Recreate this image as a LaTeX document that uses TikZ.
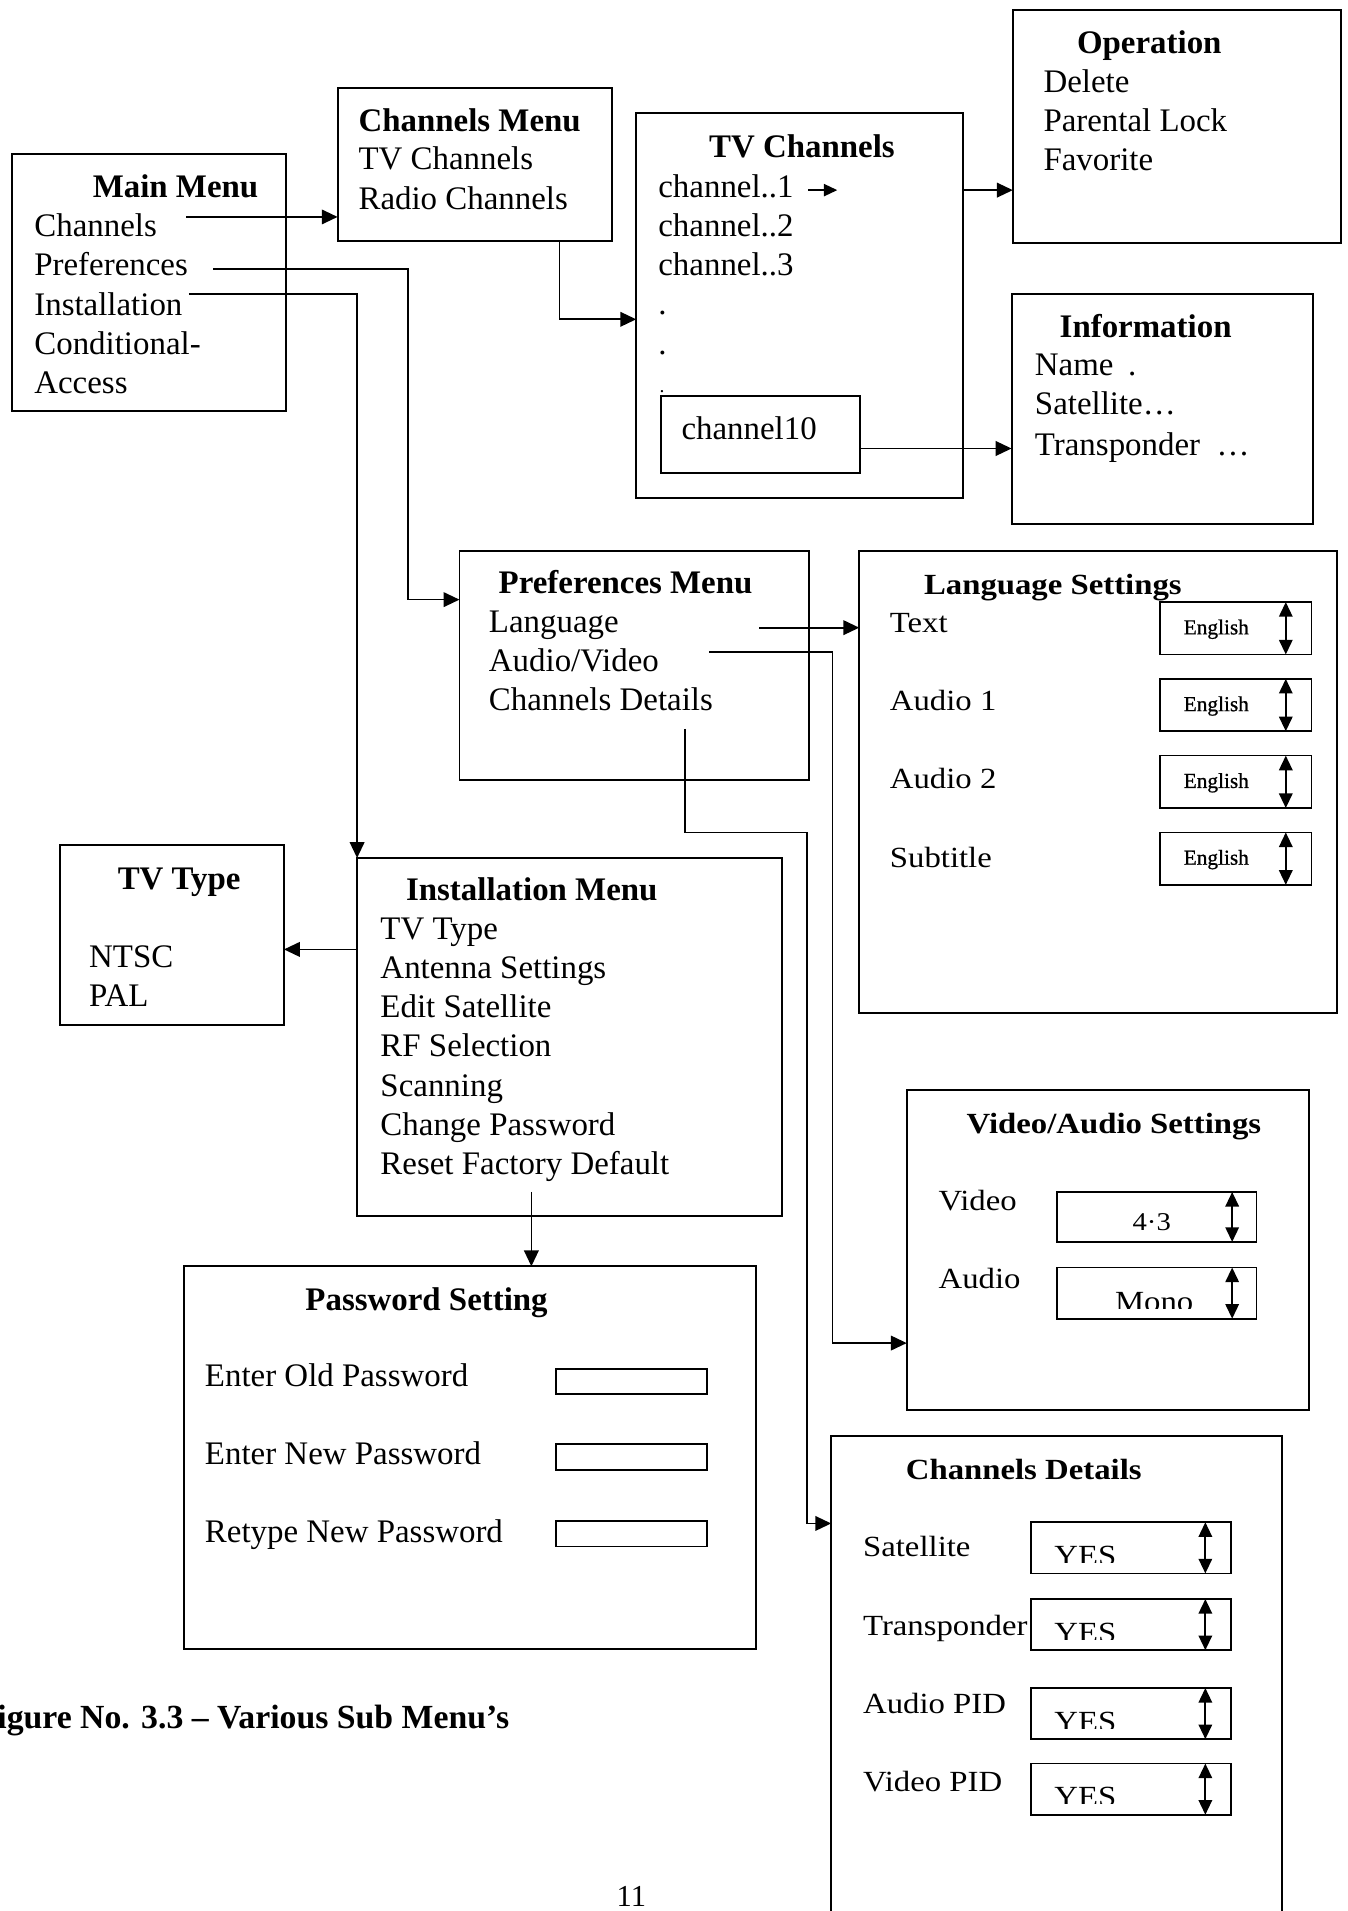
\documentclass[tikz,border=0pt]{standalone}
\usepackage{fontspec}
\setmainfont{Liberation Serif}
\newfontfamily\wideserif[FakeStretch=1.12]{Liberation Serif}
\newfontfamily\heavyserif[FakeBold=0.8]{Liberation Serif}
\usetikzlibrary{arrows.meta}
\begin{document}
\begin{tikzpicture}[x=1pt,y=-1pt,
  frame/.style={draw, line width=1.6pt, inner sep=0pt, outer sep=0pt, anchor=north west},
  field/.style={frame, line width=1.4pt},
  txt/.style={anchor=base west, inner sep=0pt, font=\fontsize{27}{32}\selectfont},
  ttl/.style={anchor=base, inner sep=0pt, font=\fontsize{27}{32}\selectfont\bfseries},
  ttlw/.style={ttl, anchor=base west},
  wtxt/.style={anchor=base west, inner sep=0pt, font=\wideserif\fontsize{24}{30}\selectfont},
  wttl/.style={anchor=base, inner sep=0pt, font=\wideserif\fontsize{24}{30}\selectfont\bfseries},
  wttlw/.style={wttl, anchor=base west},
  small/.style={anchor=base, inner sep=0pt, font=\heavyserif\fontsize{17.5}{20}\selectfont},
  arr/.style={line width=1.4pt, -{Triangle[length=13pt,width=12pt]}},
  spin/.style={line width=1.6pt, {Triangle[length=12pt,width=11pt]}-{Triangle[length=12pt,width=11pt]}},
]
\useasboundingbox (0,0) rectangle (1106,1568);
\clip (0,0) rectangle (1106,1568);

% ---------- menu frames ----------
\node[frame, minimum width=225pt, minimum height=211pt] (mm)   at (10,126)  {};
\node[frame, minimum width=225pt, minimum height=126pt] (chm)  at (277,72)  {};
\node[frame, minimum width=268pt, minimum height=316pt] (tvc)  at (522,93)  {};
\node[frame, minimum width=164pt, minimum height=63pt]  (ch10) at (542,325) {};
\node[frame, minimum width=269pt, minimum height=191pt] (op)   at (831,8)   {};
\node[frame, minimum width=247pt, minimum height=189pt] (info) at (830,241) {};
\node[frame, minimum width=287pt, minimum height=188pt] (pref) at (377,452) {};
\node[frame, minimum width=392pt, minimum height=379pt] (lang) at (705,452) {};
\node[frame, minimum width=349pt, minimum height=294pt] (inst) at (293,704) {};
\node[frame, minimum width=184pt, minimum height=148pt] (tvt)  at (49,693)  {};
\node[frame, minimum width=469pt, minimum height=314pt] (pw)   at (151,1039){};
\node[frame, minimum width=330pt, minimum height=263pt] (vas)  at (744,894) {};
\node[frame, minimum width=370pt, minimum height=440pt] (cd)   at (682,1178){};

% ---------- Main Menu ----------
\node[ttl] (mm-t) at (144,162) {Main Menu};
\node[txt] (mm-1) at (28,194) {Channels};
\node[txt] (mm-2) at (28,226) {Preferences};
\node[txt] (mm-3) at (28,259) {Installation};
\node[txt] (mm-4) at (28,291) {Conditional-};
\node[txt] (mm-5) at (28,323) {Access};

% ---------- Channels Menu ----------
\node[ttlw] (chm-t) at (294,108) {Channels Menu};
\node[txt] (chm-1) at (294,139) {TV Channels};
\node[txt] (chm-2) at (294,172) {Radio Channels};

% ---------- TV Channels ----------
\node[ttl] (tvc-t) at (658,129) {TV Channels};
\node[txt] (tvc-1) at (540,162) {channel..1};
\node[txt] (tvc-2) at (540,194) {channel..2};
\node[txt] (tvc-3) at (540,226) {channel..3};
\node[txt] (tvc-d1) at (540,258) {.};
\node[txt] (tvc-d2) at (540,291) {.};
\node[txt, font=\fontsize{16}{18}\selectfont] (tvc-d3) at (541,322) {.};
\node[txt] (ch10-t) at (559,361) {channel10};

% ---------- Operation ----------
\node[ttl] (op-t) at (943,44) {Operation};
\node[txt] (op-1) at (856,76)  {Delete};
\node[txt] (op-2) at (856,108) {Parental Lock};
\node[txt] (op-3) at (856,140) {Favorite};

% ---------- Information ----------
\node[ttl] (info-t) at (940,277) {Information};
\node[txt] (info-1) at (849,308) {Name\hspace{12pt}.};
\node[txt] (info-2) at (849,340) {Satellite\ldots};
\node[txt] (info-3) at (849,374) {Transponder \ \ldots};

% ---------- Preferences Menu ----------
\node[ttlw] (pref-t) at (409,487) {Preferences Menu};
\node[txt] (pref-1) at (401,519) {Language};
\node[txt] (pref-2) at (401,551) {Audio/Video};
\node[txt] (pref-3) at (401,583) {Channels Details};

% ---------- Language Settings ----------
\node[wttlw] (lang-t) at (758,488) {Language Settings};
\node[wtxt] (lang-1) at (730,519) {Text};
\node[wtxt] (lang-2) at (730,583) {Audio 1};
\node[wtxt] (lang-3) at (730,647) {Audio 2};
\node[wtxt] (lang-4) at (730,712) {Subtitle};
\foreach \i/\y in {1/494,2/557,3/620,4/683}{
  \node[field, minimum width=124pt, minimum height=43pt] (lf\i) at (952,\y) {};
  \node[small] (lf\i-t) at ([xshift=-16pt,yshift=-5pt]lf\i.center) {English};
  \draw[spin] ([xshift=-21pt]lf\i.north east) -- ([xshift=-21pt]lf\i.south east);
}

% ---------- Installation Menu ----------
\node[ttlw] (inst-t) at (333,739) {Installation Menu};
\node[txt] (inst-1) at (312,771) {TV Type};
\node[txt] (inst-2) at (312,803) {Antenna Settings};
\node[txt] (inst-3) at (312,835) {Edit Satellite};
\node[txt] (inst-4) at (312,867) {RF Selection};
\node[txt] (inst-5) at (312,900) {Scanning};
\node[txt] (inst-6) at (312,932) {Change Password};
\node[txt] (inst-7) at (312,964) {Reset Factory Default};

% ---------- TV Type ----------
\node[ttl] (tvt-t) at (147,730) {TV Type};
\node[txt] (tvt-1) at (73,794) {NTSC};
\node[txt] (tvt-2) at (73,826) {PAL};

% ---------- Password Setting ----------
\node[ttl] (pw-t) at (350,1075) {Password Setting};
\node[txt] (pw-1) at (168,1138) {Enter Old Password};
\node[txt] (pw-2) at (168,1202) {Enter New Password};
\node[txt] (pw-3) at (168,1266) {Retype New Password};
\foreach \i/\y in {1/1123,2/1185,3/1248}{
  \node[field, minimum width=124pt, minimum height=21pt] (pf\i) at (456,\y) {};
}

% ---------- Video/Audio Settings ----------
\node[wttl] (vas-t) at (914,930) {Video/Audio Settings};
\node[wtxt] (vas-1) at (770,993)  {Video};
\node[wtxt] (vas-2) at (770,1057) {Audio};
\node[field, minimum width=164pt, minimum height=41pt] (vf1) at (867,978) {};
\node[field, minimum width=164pt, minimum height=42pt] (vf2) at (867,1040) {};
\draw[spin] ([xshift=-20pt]vf1.north east) -- ([xshift=-20pt]vf1.south east);
\draw[spin] ([xshift=-20pt]vf2.north east) -- ([xshift=-20pt]vf2.south east);
\node[anchor=base, inner sep=0pt, font=\wideserif\fontsize{21}{26}\selectfont] (vf1-t) at (945,1010) {4·3};
\begin{scope}
  \clip (867,1040) rectangle (1031,1073.5);
  \node[anchor=base, inner sep=0pt, font=\wideserif\fontsize{24}{28}\selectfont] (vf2-t) at (947,1076) {Mono};
\end{scope}

% ---------- Channels Details ----------
\node[wttl] (cd-t) at (840,1214) {Channels Details};
\node[wtxt] (cd-1) at (708,1277) {Satellite};
\node[wtxt] (cd-2) at (708,1342) {Transponder};
\node[wtxt] (cd-3) at (708,1406) {Audio PID};
\node[wtxt] (cd-4) at (708,1470) {Video PID};
\foreach \i/\y in {1/1249,2/1312,3/1385,4/1447}{
  \node[field, minimum width=164pt, minimum height=42pt] (cf\i) at (846,\y) {};
  \draw[spin] ([xshift=-21pt]cf\i.north east) -- ([xshift=-21pt]cf\i.south east);
  \begin{scope}
    \clip (846,\y) rectangle (1010,\y+33);
    \node[anchor=base west, inner sep=0pt, font=\wideserif\fontsize{24}{28}\selectfont] (cf\i-t) at (865,\y+35.5) {YES};
  \end{scope}
}

% ---------- connectors ----------
\coordinate (s-chan) at (153,178);
\draw[arr] (s-chan) -- (s-chan -| chm.west);

\coordinate (s-pref) at (175,221);
\coordinate (k-pref) at (335,492);
\draw[arr] (s-pref) -| (k-pref) -- (k-pref -| pref.west);

\coordinate (s-inst) at (155,241);
\draw[arr] (s-inst) -| (inst.north west);

\coordinate (s-chm) at (459,198);
\coordinate (k-chm) at (459,262);
\draw[arr] (s-chm) -- (k-chm) -- (k-chm -| tvc.west);

\coordinate (a1) at (663,156);
\coordinate (a1e) at (687,156);
\draw[line width=1.4pt, -{Triangle[length=11pt,width=10pt]}] (a1) -- (a1e);

\draw[arr] (tvc.east |- a1) -- (op.west |- a1);

\coordinate (k-ch10) at (706,368);
\draw[arr] (k-ch10) -- (k-ch10 -| info.west);

\coordinate (s-lang) at (623,515);
\draw[arr] (s-lang) -- (s-lang -| lang.west);

\coordinate (s-av) at (582,535);
\coordinate (k-av) at (683,1102);
\draw[arr] (s-av) -| (k-av) -- (k-av -| vas.west);

\coordinate (s-cd) at (562,598);
\coordinate (k1-cd) at (662,683);
\coordinate (k2-cd) at (662,1250);
\draw[arr] (s-cd) |- (k1-cd) -- (k2-cd) -- (k2-cd -| cd.west);

\coordinate (k-tvt) at (293,779);
\draw[arr] (k-tvt) -- (k-tvt -| tvt.east);

\coordinate (s-pw) at (436,978);
\draw[arr] (s-pw) -- (s-pw |- pw.north);

% ---------- caption and page number ----------
\node[anchor=base east, inner sep=0pt, font=\fontsize{27.7}{32}\selectfont\bfseries] (cap) at (418,1418) {Figure No. 3.3 – Various Sub Menu’s};
\node[anchor=base, inner sep=0pt, font=\fontsize{25}{28}\selectfont] (pg) at (518,1564) {11};
\end{tikzpicture}
\end{document}
